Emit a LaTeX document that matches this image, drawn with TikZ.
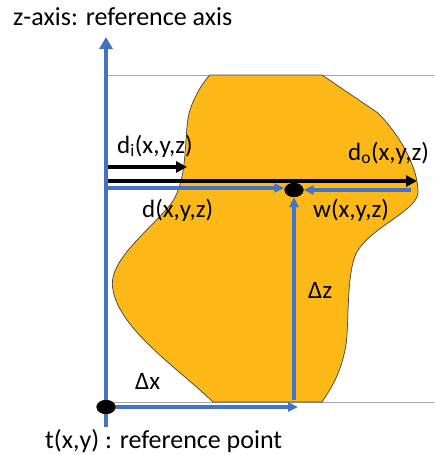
\documentclass[tikz,border=0pt]{standalone}
\usepackage{fontspec}
\setmainfont{Carlito}
\usepackage{xcolor}
\definecolor{AxisBlue}{HTML}{4472C4}
\definecolor{BodyGold}{HTML}{FBB817}
\definecolor{FrameGray}{HTML}{A6A6A6}
\usepackage{tikz}
\usetikzlibrary{arrows.meta, shapes.geometric}

\begin{document}
\begin{tikzpicture}[x=1pt, y=-1pt,
    lbl/.style={anchor=base west, inner sep=0pt, font=\fontsize{25}{30}\selectfont},
    bigtxt/.style={anchor=base west, inner sep=0pt, font=\fontsize{26}{31}\selectfont},
    refdot/.style={ellipse, fill=black, inner sep=0pt, minimum width=19pt, minimum height=14pt},
    bluearrow/.style={AxisBlue, line width=3.2pt, -{Triangle[length=10pt,width=9pt]}},
    blackarrow/.style={black, line width=3.8pt, -{Triangle[length=11pt,width=11pt]}}]
  \useasboundingbox (0,0) rectangle (434,455);
  \draw[FrameGray, line width=1pt] (107,75) -- (434,75);
  \draw[FrameGray, line width=1pt] (105,402) -- (434,402);
  \draw[black!75, line width=0.7pt, fill=BodyGold]
    (210,75) -- (322,75) -- (378,113)
    .. controls (397,132) and (418,165) .. (418,192)
    .. controls (418,210) and (375,225) .. (358,250)
    .. controls (345,270) and (350,330) .. (345,350)
    .. controls (340,375) and (330,390) .. (322,402)
    -- (213,402)
    .. controls (180,370) and (120,330) .. (113,290)
    .. controls (106,262) and (150,230) .. (170,205)
    .. controls (190,180) and (183,130) .. (190,110)
    .. controls (195,95) and (203,82) .. (210,75) -- cycle;
  \node[refdot] (tpt) at (106,407) {};
  \node[refdot] (pt) at (294,190) {};
  \coordinate (zbot) at (106,427);
  \coordinate (ztop) at (106,37);
  \coordinate (dxend) at (298,407);
  \coordinate (dzbot) at (294,400);
  \coordinate (dstart) at (106,188);
  \coordinate (wstart) at (411,190);
  \coordinate (distart) at (106,167);
  \coordinate (diend) at (187,167);
  \coordinate (dostart) at (106,181);
  \coordinate (doend) at (417,181);
  \draw[blackarrow] (distart) -- (diend);
  \draw[blackarrow] (dostart) -- (doend);
  \draw[AxisBlue, line width=3.3pt, -{Triangle[length=12pt,width=13pt]}] (zbot) -- (ztop);
  \draw[bluearrow] (tpt.center) -- (dxend);
  \draw[bluearrow] (dzbot) -- (pt.south);
  \draw[bluearrow] (dstart) -- (dstart -| pt.west);
  \draw[bluearrow] (wstart) -- (pt.east);
  \node[refdot] at (tpt) {};
  \node[refdot] at (pt) {};
  \node[bigtxt] (title) at (13,25) {z-axis: reference axis};
  \node[bigtxt] (tlabel) at (45,448) {t(x,y) : reference point};
  \node[lbl] (dilabel) at (117,153) {d\textsubscript{i}(x,y,z)};
  \node[lbl] (dolabel) at (348,160) {d\textsubscript{o}(x,y,z)};
  \node[lbl] (dlabel) at (142,217) {d(x,y,z)};
  \node[lbl] (wlabel) at (313,217) {w(x,y,z)};
  \node[lbl] (dzlabel) at (308,298) {Δz};
  \node[lbl] (dxlabel) at (135,389) {Δx};
\end{tikzpicture}
\end{document}
